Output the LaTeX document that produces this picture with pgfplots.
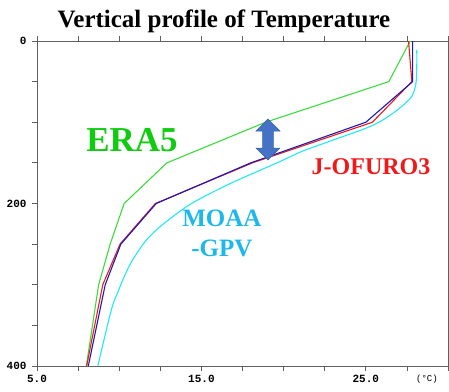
\documentclass[border=0pt]{standalone}
\usepackage{fontspec}
\setmainfont{Liberation Serif}
\setmonofont{Liberation Mono}
\usepackage{pgfplots}
\pgfplotsset{compat=1.18}
\definecolor{eragreen}{HTML}{3CDC3C}
\definecolor{eratext}{HTML}{10CC10}
\definecolor{cyanline}{HTML}{22E8F4}
\definecolor{moaatext}{HTML}{1CB8EC}
\definecolor{blueline}{HTML}{1A1AB8}
\definecolor{redline}{HTML}{F01818}
\definecolor{arrowfill}{HTML}{4472C4}
\definecolor{arrowedge}{HTML}{3A62A8}
\definecolor{axgray}{HTML}{606060}
\begin{document}
\begin{tikzpicture}
\begin{axis}[
  scale only axis, width=411pt, height=325pt,
  xmin=5, xmax=30, ymin=0, ymax=400, y dir=reverse,
  clip=false,
  axis line style={axgray, line width=0.8pt},
  every tick/.style={axgray, line width=0.8pt},
  tick align=outside,
  major tick length=5pt, minor tick length=5pt,
  xtick={5,15,25}, xticklabels={5.0,15.0,25.0},
  minor xtick={7.5,10,12.5,17.5,20,22.5,27.5,30},
  ytick={0,200,400},
  minor ytick={50,100,150,250,300,350},
  tick label style={font=\ttfamily\bfseries\fontsize{11}{12}\selectfont, black},
  /pgf/number format/assume math mode=true,
  xticklabel style={yshift=-1pt},
  yticklabel style={xshift=-2pt},
]
\coordinate (sw) at (axis cs:5,400);
\coordinate (ne) at (axis cs:30,0);
% ERA5
\addplot[eragreen, line width=1.1pt] coordinates {
(27.7,0) (26.4,50) (18.9,100) (12.9,150) (10.3,200) (9.45,250) (8.75,300) (8.0,400)};
% MOAA-GPV
\addplot[cyanline, line width=1.1pt, smooth, tension=0.5] coordinates {
(28.1,11) (28.1,30) (28.05,52) (27.8,68) (27.1,82) (26.05,97) (25.05,107) (23.0,122)
(21.1,136) (19.6,150) (16.8,175) (14.4,200) (12.7,225) (11.65,245) (10.8,270) (10.35,288)
(9.98,306) (9.52,331) (8.7,400)};
% red
\addplot[redline, line width=1.1pt] coordinates {
(27.6,0) (27.8,50) (25.4,100) (18.1,150) (12.2,200) (10.05,250) (9.0,300) (8.02,400)};
% blue
\addplot[blueline, line width=1.1pt] coordinates {
(27.85,0) (27.85,50) (25.0,100) (18.0,150) (12.25,200) (10.1,250) (9.15,300) (8.12,400)};
% arrow
\filldraw[fill=arrowfill, draw=arrowedge, line width=0.5pt]
 (axis cs:19.05,96) -- (axis cs:19.78,110.8) -- (axis cs:19.38,110.8) -- (axis cs:19.38,131.7)
 -- (axis cs:19.78,131.7) -- (axis cs:19.05,146.5) -- (axis cs:18.32,131.7) -- (axis cs:18.72,131.7)
 -- (axis cs:18.72,110.8) -- (axis cs:18.32,110.8) -- cycle;
% labels
\node[inner sep=0pt, text=eratext, font=\fontsize{35}{40}\selectfont\bfseries] at (axis cs:10.78,122) {ERA5};
\node[inner sep=0pt, text=redline, font=\fontsize{24}{28}\selectfont\bfseries] at (axis cs:25.32,155) {J-OFURO3};
\node[inner sep=0pt, text=moaatext, font=\fontsize{25}{28}\selectfont\bfseries] at (axis cs:16.25,218) {MOAA};
\node[inner sep=0pt, text=moaatext, font=\fontsize{25}{28}\selectfont\bfseries] at (axis cs:16.25,255) {-GPV};
\node[inner sep=0pt, anchor=base, font=\fontsize{25}{28}\selectfont\bfseries] at (axis cs:16.37,-17.2) {Vertical profile of Temperature};
\node[inner sep=0pt, font=\ttfamily\fontsize{9}{11}\selectfont] at (axis cs:28.72,416) {(\textdegree C)};
\end{axis}
\pgfresetboundingbox
\path ([shift={(-37pt,-25pt)}]sw) rectangle ([shift={(1pt,41pt)}]ne);
\end{tikzpicture}
\end{document}
